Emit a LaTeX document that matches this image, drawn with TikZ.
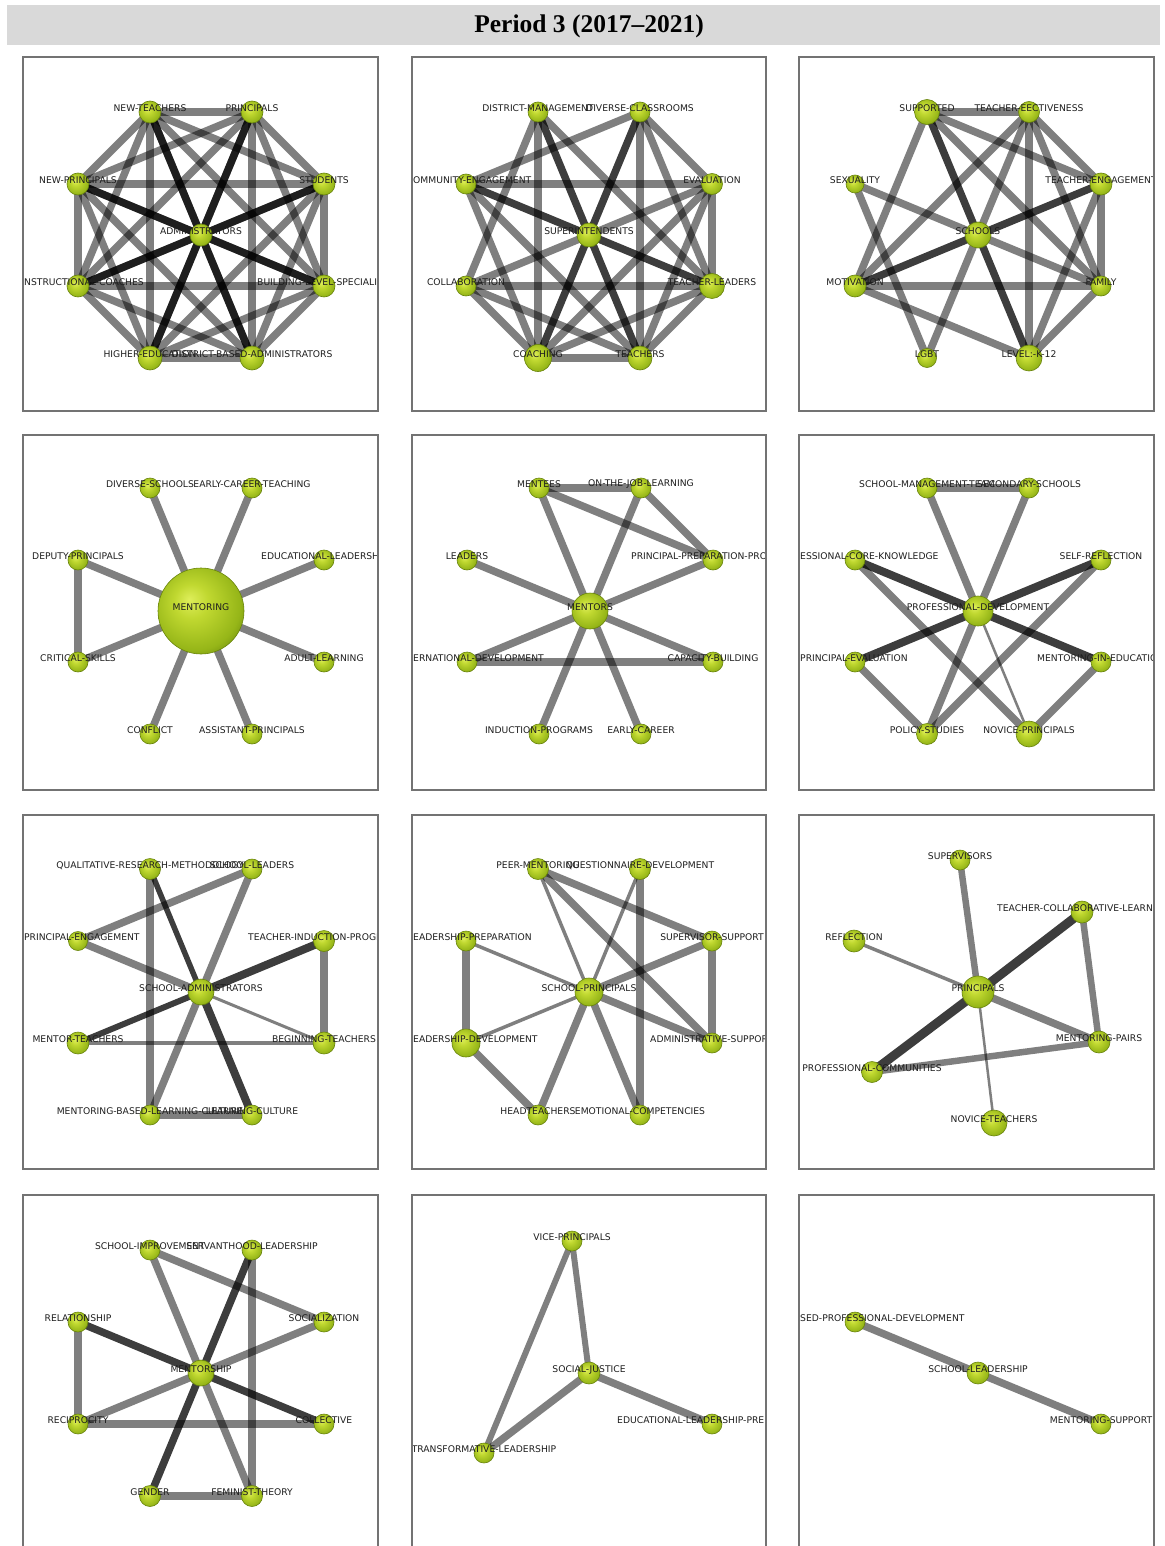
\documentclass[tikz,border=0pt]{standalone}
\usepackage{fontspec}
\setmainfont{Liberation Serif}
\newfontfamily\lblfont{DejaVu Sans}
\definecolor{gA}{RGB}{222,238,90}
\definecolor{gB}{RGB}{192,216,48}
\definecolor{gC}{RGB}{150,182,24}
\definecolor{gD}{RGB}{96,126,8}
\definecolor{rimc}{RGB}{105,132,12}
\definecolor{lblc}{RGB}{30,30,30}
\definecolor{framec}{RGB}{115,115,115}
\definecolor{bandc}{RGB}{217,217,217}
\pgfdeclareradialshading{gball}{\pgfqpoint{-7bp}{7bp}}{color(0bp)=(gA); color(10bp)=(gB); color(26bp)=(gC); color(36bp)=(gD); color(50bp)=(gD)}
\tikzset{
 ballnode/.style={circle, shading=gball, draw=rimc, line width=0.6pt, inner sep=0pt},
 lbl/.style={font=\lblfont\fontsize{9.2}{10}\selectfont, text=lblc, inner sep=0pt},
 ge/.style={draw=black, draw opacity=0.5, line width=7.5pt},
 de/.style={draw=black, draw opacity=0.76, line width=7.5pt},
 panelframe/.style={draw=framec, line width=1.2pt},
}
\newcommand\octo[3]{%
  \coordinate (#1z) at (#2,#3);
  \coordinate (#1a) at ({#2-51},{#3-123});
  \coordinate (#1b) at ({#2+51},{#3-123});
  \coordinate (#1c) at ({#2-123},{#3-51});
  \coordinate (#1d) at ({#2+123},{#3-51});
  \coordinate (#1e) at ({#2-123},{#3+51});
  \coordinate (#1f) at ({#2+123},{#3+51});
  \coordinate (#1g) at ({#2-51},{#3+123});
  \coordinate (#1h) at ({#2+51},{#3+123});}
\newcommand\ballat[2]{\node[ballnode, minimum size=#2pt] (#1n) at (#1) {};}
\newcommand\lab[2]{\node[lbl] (#1t) at ([yshift=3.5pt]#1) {#2};}
\newcommand\labw[4]{\node[lbl, anchor=west] (#1t) at (#3,#4) {#2};}
\newcommand\labe[4]{\node[lbl, anchor=east] (#1t) at (#3,#4) {#2};}
\begin{document}
\begin{tikzpicture}[x=1pt,y=-1pt]
\useasboundingbox (0,0) rectangle (1164,1546);
\fill[bandc] (7,5) rectangle (1160,45);
\node (title) at (589,26) {\fontsize{25.5}{28}\selectfont\bfseries Period 3 (2017--2021)};

% ---------- Panel 1
\begin{scope}
\clip (23,57) rectangle (378,411);
\octo{A}{201}{235}
\foreach \u/\v in {a/b,a/c,a/d,a/e,a/f,a/g,a/h,b/c,b/d,b/e,b/f,b/g,b/h,c/d,c/e,c/f,c/g,c/h,d/e,d/f,d/g,d/h,e/f,e/g,e/h,f/g,f/h,g/h} \draw[ge] (A\u) -- (A\v);
\foreach \u in {a,b,c,d,e,f,g,h} \draw[de] (Az) -- (A\u);
\ballat{Aa}{22}\ballat{Ab}{22}\ballat{Ac}{22}\ballat{Ad}{22}\ballat{Ae}{22}\ballat{Af}{22}\ballat{Ag}{24}\ballat{Ah}{24}\ballat{Az}{22}
\lab{Aa}{NEW-TEACHERS}\lab{Ab}{PRINCIPALS}\lab{Ac}{NEW-PRINCIPALS}\lab{Ad}{STUDENTS}\lab{Az}{ADMINISTRATORS}
\labw{Ae}{NSTRUCTIONAL-COACHES}{24}{282.5}\labw{Af}{BUILDING-LEVEL-SPECIALI}{257}{282.5}
\lab{Ag}{HIGHER-EDUCATION}\lab{Ah}{DISTRICT-BASED-ADMINISTRATORS}
\end{scope}

% ---------- Panel 2
\begin{scope}
\clip (412,57) rectangle (766,411);
\octo{B}{589}{235}
\foreach \u/\v in {a/g,b/h,c/d,e/f,g/h,d/f,c/b,a/e,a/f,b/d,b/f,c/g,c/h,e/h,g/d,g/f,h/d,h/f,e/g,z/d,z/e} \draw[ge] (B\u) -- (B\v);
\foreach \u in {a,b,c,f,g,h} \draw[de] (Bz) -- (B\u);
\ballat{Ba}{20}\ballat{Bb}{20}\ballat{Bc}{20}\ballat{Bd}{21}\ballat{Be}{20}\ballat{Bf}{25}\ballat{Bg}{27}\ballat{Bh}{24}\ballat{Bz}{24}
\lab{Ba}{DISTRICT-MANAGEMENT}\lab{Bb}{DIVERSE-CLASSROOMS}\labw{Bc}{OMMUNITY-ENGAGEMENT}{413}{180.5}
\lab{Bd}{EVALUATION}\lab{Bz}{SUPERINTENDENTS}\lab{Be}{COLLABORATION}\lab{Bf}{TEACHER-LEADERS}\lab{Bg}{COACHING}\lab{Bh}{TEACHERS}
\end{scope}

% ---------- Panel 3
\begin{scope}
\clip (799,57) rectangle (1154,411);
\octo{C}{978}{235}
\foreach \u/\v in {z/c,z/f,z/b,z/g,a/b,a/e,a/d,a/f,b/e,b/h,b/d,b/f,c/g,e/f,e/h,d/f,d/h,f/h} \draw[ge] (C\u) -- (C\v);
\foreach \u in {a,h,d,e} \draw[de] (Cz) -- (C\u);
\ballat{Ca}{25}\ballat{Cb}{21}\ballat{Cc}{18}\ballat{Cd}{22}\ballat{Ce}{22}\ballat{Cf}{20}\ballat{Cg}{19}\ballat{Ch}{26}\ballat{Cz}{26}
\lab{Ca}{SUPPORTED}\lab{Cb}{TEACHER-EECTIVENESS}\lab{Cc}{SEXUALITY}\lab{Cd}{TEACHER-ENGAGEMENT}\lab{Cz}{SCHOOLS}
\lab{Ce}{MOTIVATION}\lab{Cf}{FAMILY}\lab{Cg}{LGBT}\lab{Ch}{LEVEL:-K-12}
\end{scope}

% ---------- Panel 4
\begin{scope}
\clip (23,435) rectangle (378,790);
\octo{D}{201}{611}
\foreach \u in {a,b,c,d,e,f,g,h} \draw[ge] (Dz) -- (D\u);
\draw[ge] (Dc) -- (De);
\foreach \u in {a,b,c,d,e,f,g,h} {\ballat{D\u}{20}}
\ballat{Dz}{86}
\lab{Da}{DIVERSE-SCHOOLS}\lab{Db}{EARLY-CAREER-TEACHING}\lab{Dc}{DEPUTY-PRINCIPALS}\labw{Dd}{EDUCATIONAL-LEADERSH}{261}{556.5}
\lab{Dz}{MENTORING}\lab{De}{CRITICAL-SKILLS}\lab{Df}{ADULT-LEARNING}\lab{Dg}{CONFLICT}\lab{Dh}{ASSISTANT-PRINCIPALS}
\end{scope}

% ---------- Panel 5
\begin{scope}
\clip (412,435) rectangle (766,790);
\octo{E}{590}{611}
\foreach \u/\v in {a/b,a/d,b/d,z/a,z/b,z/c,z/d,z/e,z/f,e/f,z/g,z/h} \draw[ge] (E\u) -- (E\v);
\foreach \u in {a,b,c,d,e,f,g,h} {\ballat{E\u}{20}}
\ballat{Ez}{36}
\lab{Ea}{MENTEES}\lab{Eb}{ON-THE-JOB-LEARNING}\lab{Ec}{LEADERS}\labw{Ed}{PRINCIPAL-PREPARATION-PRO}{631}{556.5}
\lab{Ez}{MENTORS}\labw{Ee}{ERNATIONAL-DEVELOPMENT}{413}{658.5}\lab{Ef}{CAPACITY-BUILDING}\lab{Eg}{INDUCTION-PROGRAMS}\lab{Eh}{EARLY-CAREER}
\end{scope}

% ---------- Panel 6
\begin{scope}
\clip (799,435) rectangle (1154,790);
\octo{F}{978}{611}
\foreach \u/\v in {a/b,z/a,z/b,z/g,c/h,d/g,e/g,f/h} \draw[ge] (F\u) -- (F\v);
\draw[ge, line width=2.5pt] (Fz) -- (Fh);
\foreach \u in {c,f,d,e} \draw[de, line width=8pt] (Fz) -- (F\u);
\ballat{Fa}{20}\ballat{Fb}{20}\ballat{Fc}{20}\ballat{Fd}{20}\ballat{Fe}{20}\ballat{Ff}{20}\ballat{Fg}{21}\ballat{Fh}{26}\ballat{Fz}{30}
\lab{Fa}{SCHOOL-MANAGEMENT-TEAM}\lab{Fb}{SECONDARY-SCHOOLS}\labw{Fc}{ESSIONAL-CORE-KNOWLEDGE}{800}{556.5}\lab{Fd}{SELF-REFLECTION}
\lab{Fz}{PROFESSIONAL-DEVELOPMENT}\labw{Fe}{PRINCIPAL-EVALUATION}{800}{658.5}\labw{Ff}{MENTORING-IN-EDUCATIO}{1037}{658.5}
\lab{Fg}{POLICY-STUDIES}\lab{Fh}{NOVICE-PRINCIPALS}
\end{scope}

% ---------- Panel 7
\begin{scope}
\clip (23,815) rectangle (378,1169);
\octo{G}{201}{992}
\foreach \u/\v in {z/b,z/g,b/c,a/g,z/c,d/f,g/h} \draw[ge] (G\u) -- (G\v);
\draw[ge, line width=3pt] (Gz) -- (Gf);
\draw[ge, line width=4pt] (Ge) -- (Gf);
\draw[de, line width=5.5pt] (Gz) -- (Ga);
\draw[de, line width=8pt] (Gz) -- (Gh);
\draw[de, line width=8pt] (Gz) -- (Gd);
\draw[de, line width=6pt] (Gz) -- (Ge);
\ballat{Ga}{21}\ballat{Gb}{20}\ballat{Gc}{19}\ballat{Gd}{21}\ballat{Ge}{22}\ballat{Gf}{22}\ballat{Gg}{20}\ballat{Gh}{20}\ballat{Gz}{26}
\lab{Ga}{QUALITATIVE-RESEARCH-METHODOLOGY}\lab{Gb}{SCHOOL-LEADERS}\labw{Gc}{PRINCIPAL-ENGAGEMENT}{24}{937.5}\labw{Gd}{TEACHER-INDUCTION-PROGR}{248}{937.5}
\lab{Gz}{SCHOOL-ADMINISTRATORS}\lab{Ge}{MENTOR-TEACHERS}\lab{Gf}{BEGINNING-TEACHERS}\lab{Gg}{MENTORING-BASED-LEARNING-CULTURE}\lab{Gh}{LEARNING-CULTURE}
\end{scope}

% ---------- Panel 8
\begin{scope}
\clip (412,815) rectangle (766,1169);
\octo{H}{589}{992}
\foreach \u/\v in {z/a,z/b,z/c,z/e} \draw[ge, line width=3.5pt] (H\u) -- (H\v);
\foreach \u/\v in {a/d,a/f,b/h,c/e,z/d,d/f,z/f,z/g,z/h,e/g} \draw[ge] (H\u) -- (H\v);
\ballat{Ha}{21}\ballat{Hb}{21}\ballat{Hc}{20}\ballat{Hd}{20}\ballat{He}{28}\ballat{Hf}{20}\ballat{Hg}{20}\ballat{Hh}{20}\ballat{Hz}{28}
\lab{Ha}{PEER-MENTORING}\lab{Hb}{QUESTIONNAIRE-DEVELOPMENT}\labw{Hc}{EADERSHIP-PREPARATION}{413}{937.5}\lab{Hd}{SUPERVISOR-SUPPORT}
\lab{Hz}{SCHOOL-PRINCIPALS}\labw{He}{EADERSHIP-DEVELOPMENT}{413}{1039.5}\labw{Hf}{ADMINISTRATIVE-SUPPOR}{650}{1039.5}
\lab{Hg}{HEADTEACHERS}\lab{Hh}{EMOTIONAL-COMPETENCIES}
\end{scope}

% ---------- Panel 9
\begin{scope}
\clip (799,815) rectangle (1154,1169);
\coordinate (Isv) at (960,860);
\coordinate (Itc) at (1082,912);
\coordinate (Ire) at (854,941);
\coordinate (Ipr) at (978,992);
\coordinate (Imp) at (1099,1042);
\coordinate (Ipc) at (872,1072);
\coordinate (Int) at (994,1123);
\draw[ge, line width=6.5pt] (Isv) -- (Ipr);
\draw[ge, line width=3.5pt] (Ire) -- (Ipr);
\draw[ge] (Ipr) -- (Imp);
\draw[ge, line width=2.5pt] (Ipr) -- (Int);
\draw[ge, line width=6.5pt] (Itc) -- (Imp);
\draw[ge, line width=6.5pt] (Imp) -- (Ipc);
\draw[de, line width=9pt] (Itc) -- (Ipr);
\draw[de, line width=9pt] (Ipr) -- (Ipc);
\ballat{Isv}{20}\ballat{Itc}{22}\ballat{Ire}{22}\ballat{Ipr}{32}\ballat{Imp}{22}\ballat{Ipc}{21}\ballat{Int}{26}
\lab{Isv}{SUPERVISORS}\labw{Itc}{TEACHER-COLLABORATIVE-LEARNI}{997}{908.5}\lab{Ire}{REFLECTION}\lab{Ipr}{PRINCIPALS}
\lab{Imp}{MENTORING-PAIRS}\lab{Ipc}{PROFESSIONAL-COMMUNITIES}\lab{Int}{NOVICE-TEACHERS}
\end{scope}

% ---------- Panel 10
\begin{scope}
\clip (23,1195) rectangle (378,1546);
\octo{J}{201}{1373}
\foreach \u/\v in {z/a,z/h,a/d,b/h,c/e,z/d,z/e,e/f,g/h} \draw[ge] (J\u) -- (J\v);
\foreach \u in {b,g,c,f} \draw[de] (Jz) -- (J\u);
\foreach \u in {a,b,c,d,e,f} {\ballat{J\u}{20}}
\ballat{Jg}{21}\ballat{Jh}{21}\ballat{Jz}{26}
\lab{Ja}{SCHOOL-IMPROVEMENT}\lab{Jb}{SERVANTHOOD-LEADERSHIP}\lab{Jc}{RELATIONSHIP}\lab{Jd}{SOCIALIZATION}\lab{Jz}{MENTORSHIP}
\lab{Je}{RECIPROCITY}\lab{Jf}{COLLECTIVE}\lab{Jg}{GENDER}\lab{Jh}{FEMINIST-THEORY}
\end{scope}

% ---------- Panel 11
\begin{scope}
\clip (412,1195) rectangle (766,1546);
\coordinate (Kv) at (572,1241);
\coordinate (Ks) at (589,1373);
\coordinate (Ke) at (712,1424);
\coordinate (Kt) at (484,1453);
\draw[ge, line width=6pt] (Kv) -- (Ks);
\draw[ge, line width=6pt] (Kv) -- (Kt);
\draw[ge, line width=7.5pt] (Ks) -- (Kt);
\draw[ge, line width=7.5pt] (Ks) -- (Ke);
\ballat{Kv}{20}\ballat{Ks}{22}\ballat{Ke}{20}\ballat{Kt}{20}
\lab{Kv}{VICE-PRINCIPALS}\lab{Ks}{SOCIAL-JUSTICE}\labw{Ke}{EDUCATIONAL-LEADERSHIP-PREP}{617}{1420.5}\lab{Kt}{TRANSFORMATIVE-LEADERSHIP}
\end{scope}

% ---------- Panel 12
\begin{scope}
\clip (799,1195) rectangle (1154,1546);
\coordinate (La) at (855,1322);
\coordinate (Lz) at (978,1373);
\coordinate (Lb) at (1101,1424);
\draw[ge, line width=7.5pt] (La) -- (Lz);
\draw[ge, line width=7.5pt] (Lz) -- (Lb);
\ballat{La}{20}\ballat{Lz}{22}\ballat{Lb}{20}
\labw{La}{SED-PROFESSIONAL-DEVELOPMENT}{800}{1318.5}\lab{Lz}{SCHOOL-LEADERSHIP}\lab{Lb}{MENTORING-SUPPORT}
\end{scope}

% ---------- frames
\draw[panelframe] (23,57) rectangle (378,411);
\draw[panelframe] (412,57) rectangle (766,411);
\draw[panelframe] (799,57) rectangle (1154,411);
\draw[panelframe] (23,435) rectangle (378,790);
\draw[panelframe] (412,435) rectangle (766,790);
\draw[panelframe] (799,435) rectangle (1154,790);
\draw[panelframe] (23,815) rectangle (378,1169);
\draw[panelframe] (412,815) rectangle (766,1169);
\draw[panelframe] (799,815) rectangle (1154,1169);
\draw[panelframe] (23,1546) -- (23,1195) -- (378,1195) -- (378,1546);
\draw[panelframe] (412,1546) -- (412,1195) -- (766,1195) -- (766,1546);
\draw[panelframe] (799,1546) -- (799,1195) -- (1154,1195) -- (1154,1546);
\end{tikzpicture}
\end{document}
